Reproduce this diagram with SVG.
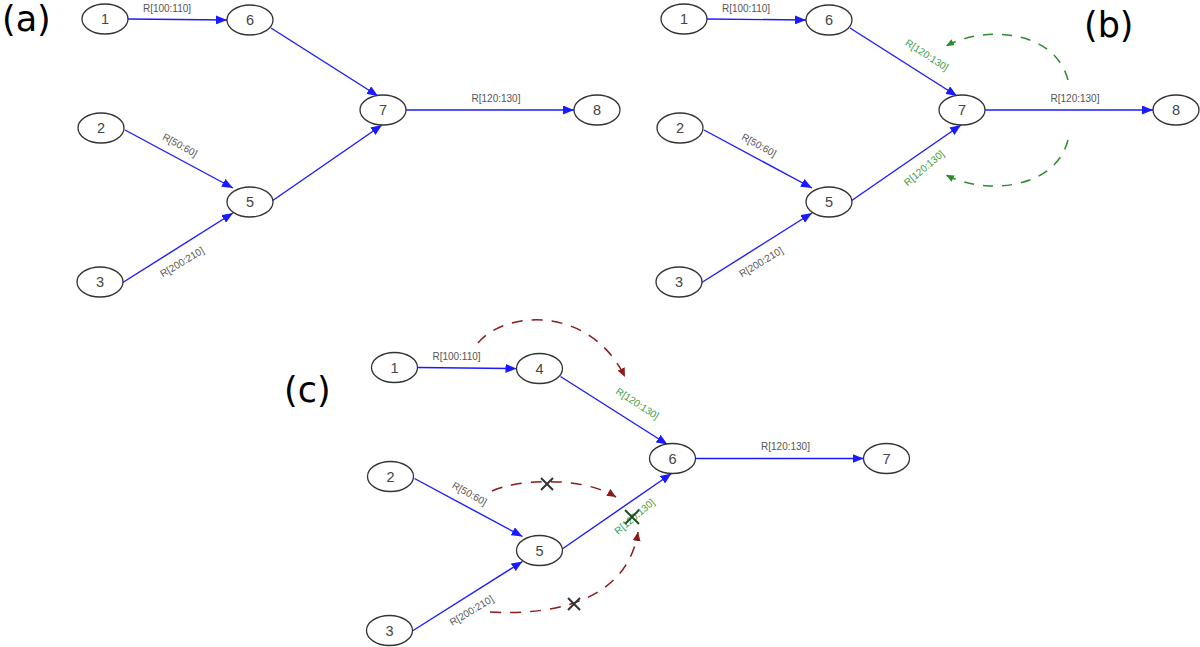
<svg xmlns="http://www.w3.org/2000/svg" width="1200" height="647" viewBox="0 0 1200 647">
<style>
.node ellipse{fill:#fff;stroke:#333;stroke-width:1.3}
.node text{font-family:"Liberation Sans",Arial,sans-serif;font-size:14.5px;fill:#444;text-anchor:middle;dominant-baseline:central}
.edge{stroke:#1a1aff;stroke-width:1.4;fill:none;marker-end:url(#ab)}
.lbl{font-family:"Liberation Sans",Arial,sans-serif;font-size:10px;fill:#555;text-anchor:middle;dominant-baseline:central}
.glbl{font-family:"Liberation Sans",Arial,sans-serif;font-size:10px;fill:#3a9a3a;text-anchor:middle;dominant-baseline:central}
.gdash{stroke:#2e8b2e;stroke-width:1.5;fill:none;stroke-dasharray:10 9;marker-end:url(#ag)}
.rdash{stroke:#8b1a1a;stroke-width:1.5;fill:none;stroke-dasharray:11 9;marker-end:url(#ar)}
.xmark{stroke:#333;stroke-width:2;fill:none}
.gx{stroke:#1f4f1f;stroke-width:2;fill:none}
.panel{font-family:"DejaVu Sans",sans-serif;font-size:35px;fill:#000}
</style>
<defs>
<marker id="ab" viewBox="0 0 11 9" refX="11" refY="4.5" markerWidth="11" markerHeight="9" markerUnits="userSpaceOnUse" orient="auto"><path d="M0,0 L11,4.5 L0,9 z" fill="#1a1aff"/></marker>
<marker id="ag" viewBox="0 0 8 7" refX="8" refY="3.5" markerWidth="8" markerHeight="7" markerUnits="userSpaceOnUse" orient="auto"><path d="M0,0 L8,3.5 L0,7 z" fill="#2e8b2e"/></marker>
<marker id="ar" viewBox="0 0 9 8" refX="9" refY="4" markerWidth="9" markerHeight="8" markerUnits="userSpaceOnUse" orient="auto"><path d="M0,0 L9,4 L0,8 z" fill="#8b1a1a"/></marker>
</defs>

<!-- Panel (a) -->
<g id="panel-a">
<text class="panel" x="2" y="31">(a)</text>
<g id="a-connectors">
<path class="edge" d="M128,19 L227,20"/>
<path class="edge" d="M271,28 L378,96"/>
<path class="edge" d="M125,130 L233,188"/>
<path class="edge" d="M122,283 L233,213"/>
<path class="edge" d="M272,201 L382,125"/>
<path class="edge" d="M406,110 L574,110"/>
<text class="lbl" x="167" y="8">R[100:110]</text>
<text class="lbl" transform="translate(180,145) rotate(29)">R[50:60]</text>
<text class="lbl" transform="translate(182,262) rotate(-31)">R[200:210]</text>
<text class="lbl" x="496" y="98">R[120:130]</text>
</g>
<g id="a-n1" class="node"><ellipse cx="105" cy="19" rx="23" ry="15"/><text x="105" y="19">1</text></g>
<g id="a-n6" class="node"><ellipse cx="250" cy="20" rx="23" ry="15"/><text x="250" y="20">6</text></g>
<g id="a-n7" class="node"><ellipse cx="383" cy="110" rx="23" ry="15"/><text x="383" y="110">7</text></g>
<g id="a-n8" class="node"><ellipse cx="597" cy="110" rx="23" ry="15"/><text x="597" y="110">8</text></g>
<g id="a-n2" class="node"><ellipse cx="101" cy="128" rx="23" ry="15"/><text x="101" y="128">2</text></g>
<g id="a-n5" class="node"><ellipse cx="250" cy="202" rx="23" ry="15"/><text x="250" y="202">5</text></g>
<g id="a-n3" class="node"><ellipse cx="100" cy="282" rx="23" ry="15"/><text x="100" y="282">3</text></g>
</g>

<!-- Panel (b) -->
<g id="panel-b">
<text class="panel" x="1084" y="37">(b)</text>
<g transform="translate(579,0)">
<g id="b-connectors">
<path class="edge" d="M128,19 L227,20"/>
<path class="edge" d="M271,28 L378,96"/>
<path class="edge" d="M125,130 L233,188"/>
<path class="edge" d="M122,283 L233,213"/>
<path class="edge" d="M272,201 L382,125"/>
<path class="edge" d="M406,110 L574,110"/>
<text class="lbl" x="167" y="8">R[100:110]</text>
<text class="lbl" transform="translate(180,145) rotate(29)">R[50:60]</text>
<text class="lbl" transform="translate(182,262) rotate(-31)">R[200:210]</text>
<text class="lbl" x="496" y="98">R[120:130]</text>
<text class="glbl" transform="translate(348,55) rotate(33)">R[120:130]</text>
<text class="glbl" transform="translate(345,168) rotate(-40)">R[120:130]</text>
</g>
<g id="b-n1" class="node"><ellipse cx="105" cy="19" rx="23" ry="15"/><text x="105" y="19">1</text></g>
<g id="b-n6" class="node"><ellipse cx="250" cy="20" rx="23" ry="15"/><text x="250" y="20">6</text></g>
<g id="b-n7" class="node"><ellipse cx="383" cy="110" rx="23" ry="15"/><text x="383" y="110">7</text></g>
<g id="b-n8" class="node"><ellipse cx="597" cy="110" rx="23" ry="15"/><text x="597" y="110">8</text></g>
<g id="b-n2" class="node"><ellipse cx="101" cy="128" rx="23" ry="15"/><text x="101" y="128">2</text></g>
<g id="b-n5" class="node"><ellipse cx="250" cy="202" rx="23" ry="15"/><text x="250" y="202">5</text></g>
<g id="b-n3" class="node"><ellipse cx="100" cy="282" rx="23" ry="15"/><text x="100" y="282">3</text></g>
</g>
<g id="b-feedback">
<path class="gdash" d="M1068,80 C1055,30 985,25 946,46"/>
<path class="gdash" d="M1068,140 C1055,190 985,195 946,175"/>
</g>
</g>

<!-- Panel (c) -->
<g id="panel-c">
<text class="panel" x="284" y="402">(c)</text>
<g transform="translate(289.5,348.5)">
<g id="c-connectors">
<path class="edge" d="M128,19 L227,20"/>
<path class="edge" d="M271,28 L378,96"/>
<path class="edge" d="M125,130 L233,188"/>
<path class="edge" d="M122,283 L233,213"/>
<path class="edge" d="M272,201 L382,125"/>
<path class="edge" d="M406,110 L574,110"/>
<text class="lbl" x="167" y="8">R[100:110]</text>
<text class="lbl" transform="translate(180,145) rotate(29)">R[50:60]</text>
<text class="lbl" transform="translate(182,262) rotate(-31)">R[200:210]</text>
<text class="lbl" x="496" y="98">R[120:130]</text>
<text class="glbl" transform="translate(348,55) rotate(33)">R[120:130]</text>
<text class="glbl" transform="translate(345,168) rotate(-40)">R[120:130]</text>
</g>
<g id="c-n1" class="node"><ellipse cx="105" cy="19" rx="23" ry="15"/><text x="105" y="19">1</text></g>
<g id="c-n4" class="node"><ellipse cx="250" cy="20" rx="23" ry="15"/><text x="250" y="20">4</text></g>
<g id="c-n6" class="node"><ellipse cx="383" cy="110" rx="23" ry="15"/><text x="383" y="110">6</text></g>
<g id="c-n7" class="node"><ellipse cx="597" cy="110" rx="23" ry="15"/><text x="597" y="110">7</text></g>
<g id="c-n2" class="node"><ellipse cx="101" cy="128" rx="23" ry="15"/><text x="101" y="128">2</text></g>
<g id="c-n5" class="node"><ellipse cx="250" cy="202" rx="23" ry="15"/><text x="250" y="202">5</text></g>
<g id="c-n3" class="node"><ellipse cx="100" cy="282" rx="23" ry="15"/><text x="100" y="282">3</text></g>
</g>
<g id="c-feedback">
<path class="rdash" d="M478,343 C505,310 590,305 625,377"/>
<path class="rdash" d="M492,491 C515,480 580,475 616,497"/>
<path class="rdash" d="M490,612 C565,616 628,595 638,532"/>
<path class="xmark" d="M541,478 L553,490 M553,478 L541,490"/>
<path class="xmark" d="M568,598 L580,610 M580,598 L568,610"/>
<path class="gx" d="M625,510 L639,524 M639,510 L625,524"/>
</g>
</g>
</svg>
